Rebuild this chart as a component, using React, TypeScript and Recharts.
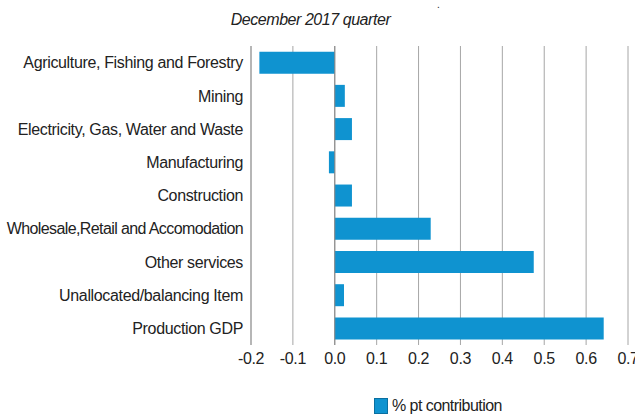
import React from 'react';
import { BarChart, Bar, XAxis, YAxis, CartesianGrid, ReferenceLine } from 'recharts';

const industries = [
  'Agriculture, Fishing and Forestry',
  'Mining',
  'Electricity, Gas, Water and Waste',
  'Manufacturing',
  'Construction',
  'Wholesale,Retail and Accomodation',
  'Other services',
  'Unallocated/balancing Item',
  'Production GDP',
];
const contribution = [-0.18, 0.024, 0.041, -0.014, 0.041, 0.229, 0.475, 0.022, 0.642];
const xTicks = [-0.2, -0.1, 0, 0.1, 0.2, 0.3, 0.4, 0.5, 0.6, 0.7];

const chartData = industries.map((name, i) => ({ name, value: contribution[i] }));

const font = '"Liberation Sans", Arial, sans-serif';
const barColor = '#0f93d0';
const textStyle = { fill: '#222', fontSize: 16, fontFamily: font, letterSpacing: -0.35 };

// category label; the wholesale one is set tighter in the original
function CategoryTick(props: any) {
  const { x, y, payload } = props;
  const label: string = payload.value;
  const spacing = label.startsWith('Wholesale') ? -0.6 : -0.35;
  return (
    <text
      x={x}
      y={y}
      dy="0.355em"
      textAnchor="end"
      fill="#222"
      fontSize={16}
      fontFamily={font}
      letterSpacing={spacing}
    >
      {label}
    </text>
  );
}

export default function App() {
  return (
    <div style={{ position: 'absolute', left: 0, top: 0, width: 635, height: 416, background: '#fff', fontFamily: font }}>
      <div
        style={{
          position: 'absolute',
          top: 11,
          left: 0,
          width: 621,
          textAlign: 'center',
          fontStyle: 'italic',
          fontSize: 16,
          letterSpacing: -0.45,
          color: '#222',
        }}
      >
        December 2017 quarter
      </div>
      <div style={{ position: 'absolute', top: 0, left: 437, fontSize: 10, lineHeight: '10px', color: '#222' }}>.</div>
      <BarChart
        width={635}
        height={416}
        data={chartData}
        layout="vertical"
        margin={{ top: 46, right: 7, left: 0, bottom: 41 }}
        barCategoryGap="17%"
      >
        <CartesianGrid horizontal={false} stroke="#a6a6a6" />
        <XAxis
          type="number"
          domain={[-0.2, 0.7]}
          ticks={xTicks}
          tickFormatter={(v: number) => v.toFixed(1)}
          axisLine={false}
          tickLine={false}
          height={30}
          tick={textStyle}
          tickMargin={2}
          interval={0}
        />
        <YAxis
          type="category"
          dataKey="name"
          width={251}
          axisLine={{ stroke: '#999' }}
          tickLine={false}
          tick={<CategoryTick />}
          interval={0}
        />
        <ReferenceLine x={0} stroke="#888" />
        <Bar dataKey="value" name="% pt contribution" fill={barColor} isAnimationActive={false} />
      </BarChart>
      <div
        style={{
          position: 'absolute',
          left: 374,
          top: 397,
          display: 'flex',
          alignItems: 'center',
          fontSize: 16,
          color: '#222',
          letterSpacing: -0.55,
        }}
      >
        <span
          style={{
            display: 'inline-block',
            width: 14,
            height: 16,
            background: barColor,
            border: '1px solid #0a6fa0',
            boxSizing: 'border-box',
            marginRight: 4,
          }}
        />
        % pt contribution
      </div>
    </div>
  );
}
